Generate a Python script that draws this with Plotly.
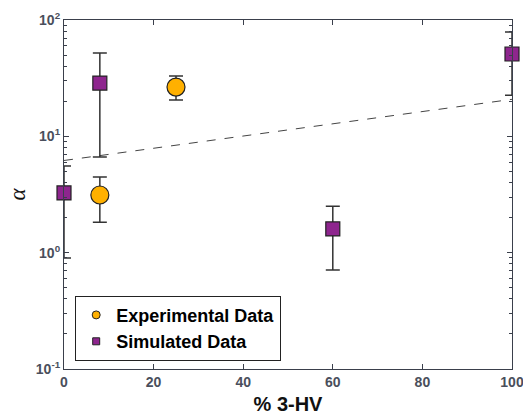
import plotly.graph_objects as go

# Experimental data
exp_x = [8, 25]
exp_y = [3.13, 26.5]
exp_hi = [4.47, 33.0]
exp_lo = [1.83, 20.5]

# Simulated data
sim_x = [0, 8, 60, 100]
sim_y = [3.26, 28.7, 1.6, 51.0]
sim_hi = [5.56, 52.0, 2.51, 79.0]
sim_lo = [0.90, 6.64, 0.71, 22.6]

# Trend line (dashed)
fit_x = [0, 100]
fit_y = [6.2, 20.8]

ytickvals = [0.1, 1, 10, 100]
yticktext = ["10<sup>-1</sup>", "10<sup>0</sup>", "10<sup>1</sup>", "10<sup>2</sup>"]
yminor = [m * d for d in (0.1, 1, 10) for m in range(2, 10)]

axis_col = "#3a3f4b"
err_col = "#333333"
orange = "#FFB000"
purple = "#8E258E"

fig = go.Figure()

fig.add_trace(go.Scatter(
    x=fit_x, y=fit_y, mode="lines",
    line=dict(color="#444444", width=1, dash="dash"),
    showlegend=False, hoverinfo="skip", cliponaxis=False))

fig.add_trace(go.Scatter(
    x=exp_x, y=exp_y, mode="markers", name="Experimental Data", showlegend=False,
    marker=dict(symbol="circle", size=18, color=orange,
                line=dict(color="#222222", width=1.2)),
    error_y=dict(type="data", symmetric=False,
                 array=[h - v for h, v in zip(exp_hi, exp_y)],
                 arrayminus=[v - l for l, v in zip(exp_lo, exp_y)],
                 color=err_col, thickness=1.5, width=7),
    cliponaxis=False))

fig.add_trace(go.Scatter(
    x=sim_x, y=sim_y, mode="markers", name="Simulated Data", showlegend=False,
    marker=dict(symbol="square", size=14, color=purple,
                line=dict(color="#222222", width=1.2)),
    error_y=dict(type="data", symmetric=False,
                 array=[h - v for h, v in zip(sim_hi, sim_y)],
                 arrayminus=[v - l for l, v in zip(sim_lo, sim_y)],
                 color=err_col, thickness=1.5, width=7),
    cliponaxis=False))

# legend entries with small symbols, as in the reference
fig.add_trace(go.Scatter(
    x=[None], y=[None], mode="markers", name="Experimental Data",
    marker=dict(symbol="circle", size=8, color=orange, line=dict(color="#222222", width=1))))
fig.add_trace(go.Scatter(
    x=[None], y=[None], mode="markers", name="Simulated Data",
    marker=dict(symbol="square", size=7, color=purple, line=dict(color="#222222", width=1))))

tickfont = dict(size=14, color="#4a4f5c", family="Arial, Liberation Sans, sans-serif", weight="bold")

fig.update_layout(
    width=523, height=417,
    margin=dict(l=64, r=11, t=20, b=48, autoexpand=False),
    paper_bgcolor="white", plot_bgcolor="white",
    font=dict(family="Arial, Liberation Sans, sans-serif", color=axis_col),
    xaxis=dict(range=[0, 100], tickvals=[0, 20, 40, 60, 80, 100],
               ticks="inside", ticklen=5, tickcolor=axis_col, automargin=False,
               ticklabeloverflow="allow",
               showline=True, linecolor=axis_col, linewidth=1.2, mirror="ticks",
               showgrid=False, zeroline=False, tickfont=tickfont,
               title=dict(text="<b>% 3-HV</b>", font=dict(size=20, color="#111111"), standoff=8)),
    yaxis=dict(type="log", range=[-1, 2], tickvals=ytickvals, ticktext=yticktext,
               ticks="inside", ticklen=5, tickcolor=axis_col, automargin=False,
               ticklabeloverflow="allow",
               minor=dict(tickvals=yminor, ticks="inside", ticklen=3, tickcolor=axis_col, showgrid=False),
               showline=True, linecolor=axis_col, linewidth=1.2, mirror="ticks",
               showgrid=False, zeroline=False, tickfont=tickfont,
               title=dict(text="<i>α</i>", font=dict(size=23, color="#111111", family="Liberation Serif, DejaVu Serif, serif"), standoff=3)),
    legend=dict(x=0.025, y=0.21, xanchor="left", yanchor="top",
                bgcolor="white", bordercolor="#222222", borderwidth=1,
                font=dict(size=18, color="#000000", family="Arial, Liberation Sans, sans-serif", weight="bold"),
                itemsizing="trace", tracegroupgap=0),
    showlegend=True,
)

fig.write_html("out.html")
